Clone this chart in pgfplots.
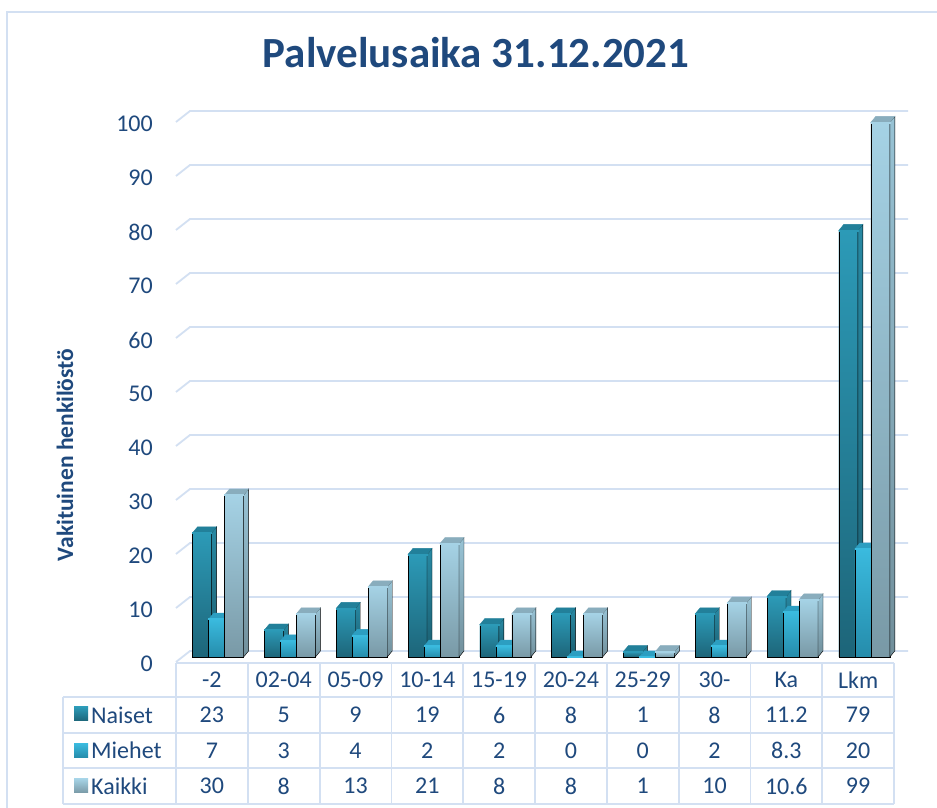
\documentclass[border=0pt]{standalone}
\usepackage{pgfplots}
\pgfplotsset{compat=1.18}
\usepackage{pgfplotstable}
\usepackage{fontspec}
\setmainfont{Carlito}
\definecolor{txt}{HTML}{1F497D}
\definecolor{gridc}{HTML}{D3E0F2}
\definecolor{nTop}{HTML}{2C9AB7}
\definecolor{nBot}{HTML}{1D6579}
\definecolor{nMid}{HTML}{25809A}
\definecolor{nSideT}{HTML}{2889A3}
\definecolor{nSideB}{HTML}{1B5E70}
\definecolor{nCap}{HTML}{22809A}
\definecolor{mTop}{HTML}{3ABADE}
\definecolor{mBot}{HTML}{258CAB}
\definecolor{mMid}{HTML}{2FA3C6}
\definecolor{mSideT}{HTML}{33A8CB}
\definecolor{mSideB}{HTML}{22829F}
\definecolor{mCap}{HTML}{2C9EC1}
\definecolor{kTop}{HTML}{A5D2E5}
\definecolor{kBot}{HTML}{7999A6}
\definecolor{kMid}{HTML}{8EB6C6}
\definecolor{kSideT}{HTML}{98C3D5}
\definecolor{kSideB}{HTML}{718F9B}
\definecolor{kCap}{HTML}{89ADBD}

\pgfplotstableread{
x n m k
0 23 7 30
1 5 3 8
2 9 4 13
3 19 2 21
4 6 2 8
5 8 0 8
6 1 0 1
7 8 2 10
8 11.2 8.3 10.6
9 79 20 99
}\data

\pgfdeclareplotmark{emptymark}{}

\pgfplotsset{
  cube/.style n args={7}{%
    scatter, only marks, mark=emptymark,
    visualization depends on={rawy \as \yv},
    scatter/@pre marker code/.code={%
      \pgfscope
      \pgfmathsetmacro\xl{#1-9.5}%
      \pgfmathsetmacro\xr{#1+9.5}%
      \pgfmathsetmacro\xll{#1-4.5}%
      \pgfmathsetmacro\xrr{#1+14.5}%
      \pgfmathsetmacro\hn{-\yv*5.4}%
      \pgfmathsetmacro\hb{6-\yv*5.4}%
      \pgfmathparse{\yv>0.05}%
      \ifnum\pgfmathresult=1
        \shade[top color=#6, bottom color=#7] (\xl pt,0pt) rectangle (\xr pt,\hn pt);
      \fi
      \shade[top color=#3, bottom color=#4] (\xr pt,0pt) -- (\xrr pt,6pt) -- (\xrr pt,\hb pt) -- (\xr pt,\hn pt) -- cycle;
      \fill[#2] (\xl pt,0pt) -- (\xr pt,0pt) -- (\xrr pt,6pt) -- (\xll pt,6pt) -- cycle;
      \fill[#5] (\xl pt,-0.4pt) rectangle (\xr pt,0.5pt);
    },
    scatter/@post marker code/.code={\endpgfscope},
  },
}

\begin{document}
\begin{tikzpicture}
\begin{scope}[x=1pt,y=1pt]
\useasboundingbox (0,0) rectangle (937,808);
\fill[white] (0,0) rectangle (937,808);
% outer frame
\draw[gridc, line width=2pt] (7,-5) -- (7,796) -- (945,796);
% title
\node[font=\bfseries\fontsize{43}{50}\selectfont, text=txt, anchor=base] at (476,740) {Palvelusaika 31.12.2021};
% y label
\node[rotate=90, font=\bfseries\fontsize{23.5}{28}\selectfont, text=txt] at (65,353) {Vakituinen henkilöstö};
% gridlines (back wall + left wall)
\foreach \v in {0,10,...,100} {
  \pgfmathsetmacro\yb{157+5.4*\v}
  \pgfmathsetmacro\yf{\yb-11}
  \draw[gridc, line width=1.8pt] (176,\yf) -- (190,\yb) -- (908,\yb);
}
% table lines
\draw[gridc, line width=1.8pt] (176,145) -- (894,145);
\foreach \yy in {111,75,40,4} { \draw[gridc, line width=1.8pt] (63,\yy) -- (894,\yy); }
\draw[gridc, line width=1.8pt] (63,111) -- (63,4);
\foreach \k in {0,...,10} { \draw[gridc, line width=1.8pt] ({176+71.8*\k},145) -- ({176+71.8*\k},4); }
\end{scope}

\begin{axis}[
  at={(176pt,151pt)}, anchor=south west,
  scale only axis, width=718pt, height=540pt,
  xmin=-0.5, xmax=9.5, ymin=0, ymax=100,
  clip=false,
  axis line style={draw=none}, tick style={draw=none},
  xtick=\empty,
  ytick={0,10,...,100},
  /pgf/number format/assume math mode=true,
  yticklabel style={font=\fontsize{24}{28}\selectfont, text=txt, anchor=east, inner sep=0pt, xshift=-23pt, yshift=-7pt},
]
\addplot[ybar, bar width=19pt, bar shift=-9.8pt, draw=none, fill=nMid] table[x=x,y=n]{\data};
\addplot[cube={-9.8}{nCap}{nSideT}{nSideB}{nTop}{nTop}{nBot}] table[x=x,y=n]{\data};
\addplot[ybar, bar width=19pt, bar shift=6.2pt, draw=none, fill=mMid] table[x=x,y=m]{\data};
\addplot[cube={6.2}{mCap}{mSideT}{mSideB}{mTop}{mTop}{mBot}] table[x=x,y=m]{\data};
\addplot[ybar, bar width=19pt, bar shift=22.2pt, draw=none, fill=kMid] table[x=x,y=k]{\data};
\addplot[cube={22.2}{kCap}{kSideT}{kSideB}{kTop}{kTop}{kBot}] table[x=x,y=k]{\data};
\end{axis}

% table text
\begin{scope}[x=1pt,y=1pt,font=\fontsize{24}{28}\selectfont, text=txt]
\foreach \c [count=\i from 0] in {-2,02-04,05-09,10-14,15-19,20-24,25-29,30-,Ka,Lkm}
  { \node at ({176+71.8*(\i+0.5)},128) {\c}; }
\foreach \c [count=\i from 0] in {23,5,9,19,6,8,1,8,11.2,79}
  { \node at ({176+71.8*(\i+0.5)},93) {\c}; }
\foreach \c [count=\i from 0] in {7,3,4,2,2,0,0,2,8.3,20}
  { \node at ({176+71.8*(\i+0.5)},57.5) {\c}; }
\foreach \c [count=\i from 0] in {30,8,13,21,8,8,1,10,10.6,99}
  { \node at ({176+71.8*(\i+0.5)},22) {\c}; }
\shade[top color=nTop, bottom color=nBot] (74,87) rectangle (88,101);
\shade[top color=mTop, bottom color=mBot] (74,50.5) rectangle (88,64.5);
\shade[top color=kTop, bottom color=kBot] (74,15) rectangle (88,29);
\node[anchor=west, inner sep=0pt] at (91,93) {Naiset};
\node[anchor=west, inner sep=0pt] at (91,57.5) {Miehet};
\node[anchor=west, inner sep=0pt] at (91,22) {Kaikki};
\end{scope}
\end{tikzpicture}
\end{document}
